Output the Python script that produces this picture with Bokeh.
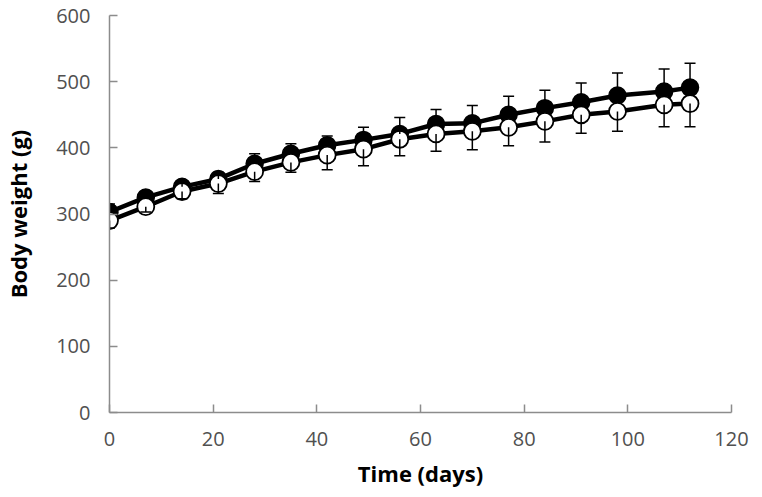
from bokeh.plotting import figure
from bokeh.models import ColumnDataSource, Whisker, TeeHead, Range1d, FixedTicker
from bokeh.embed import file_html
from bokeh.resources import INLINE

days = [0, 7, 14, 21, 28, 35, 42, 49, 56, 63, 70, 77, 84, 91, 98, 107, 112]
black_mean = [303, 325, 341, 353, 376, 391, 404, 412, 421, 436, 437, 450, 460, 469, 479, 485, 491]
black_sd = [12, 9, 8, 10, 15, 15, 14, 19, 25, 22, 27, 28, 27, 29, 34, 34, 37]
white_mean = [290, 311, 334, 346, 364, 378, 389, 398, 413, 421, 425, 431, 440, 450, 455, 465, 467]
white_sd = [11, 8, 11, 15, 15, 15, 22, 25, 25, 26, 28, 28, 31, 28, 30, 33, 35]
x_ticks = [0, 20, 40, 60, 80, 100, 120]
y_ticks = [0, 100, 200, 300, 400, 500, 600]

src_b = ColumnDataSource(dict(x=days, y=black_mean,
                              up=[m + s for m, s in zip(black_mean, black_sd)]))
src_w = ColumnDataSource(dict(x=days, y=white_mean,
                              lo=[m - s for m, s in zip(white_mean, white_sd)]))

p = figure(width=754, height=492, output_backend="svg", toolbar_location=None,
           x_range=Range1d(0, 120), y_range=Range1d(0, 600),
           min_border_left=108, min_border_right=23, min_border_top=15, min_border_bottom=80)
p.outline_line_color = None
p.xgrid.visible = False
p.ygrid.visible = False
p.background_fill_color = "white"

wb = Whisker(source=src_b, base="x", lower="y", upper="up",
             upper_head=TeeHead(size=11, line_color="black", line_width=1.5),
             lower_head=None, line_color="black", line_width=1.5, level="glyph")
ww = Whisker(source=src_w, base="x", lower="lo", upper="y",
             lower_head=TeeHead(size=11, line_color="black", line_width=1.5),
             upper_head=None, line_color="black", line_width=1.5, level="glyph")
p.add_layout(wb)
p.add_layout(ww)

p.line("x", "y", source=src_b, line_color="black", line_width=4.5)
p.scatter("x", "y", source=src_b, size=17, fill_color="black", line_color="black", line_width=1.5)
p.line("x", "y", source=src_w, line_color="black", line_width=4.5)
p.scatter("x", "y", source=src_w, size=17, fill_color="white", line_color="black", line_width=1.8)

for ax in (p.xaxis[0], p.yaxis[0]):
    ax.axis_line_color = "#8c8c8c"
    ax.axis_line_width = 1.5
    ax.major_tick_line_color = "#8c8c8c"
    ax.major_tick_line_width = 1.5
    ax.major_tick_in = 8
    ax.major_tick_out = 0
    ax.minor_tick_line_color = None
    ax.major_label_text_font = "Open Sans"
    ax.major_label_text_font_size = "20px"
    ax.major_label_text_color = "#505050"
    ax.axis_label_text_font = "Open Sans"
    ax.axis_label_text_font_style = "bold"
    ax.axis_label_text_font_size = "22px"
    ax.axis_label_text_color = "black"

p.xaxis[0].ticker = FixedTicker(ticks=x_ticks)
p.yaxis[0].ticker = FixedTicker(ticks=y_ticks)
p.xaxis[0].major_label_standoff = 19
p.yaxis[0].major_label_standoff = 19
p.xaxis[0].axis_label = "Time (days)"
p.yaxis[0].axis_label = "Body weight (g)"
p.xaxis[0].axis_label_standoff = 9
p.yaxis[0].axis_label_standoff = 20

open("out.html", "w").write(file_html(p, INLINE))
